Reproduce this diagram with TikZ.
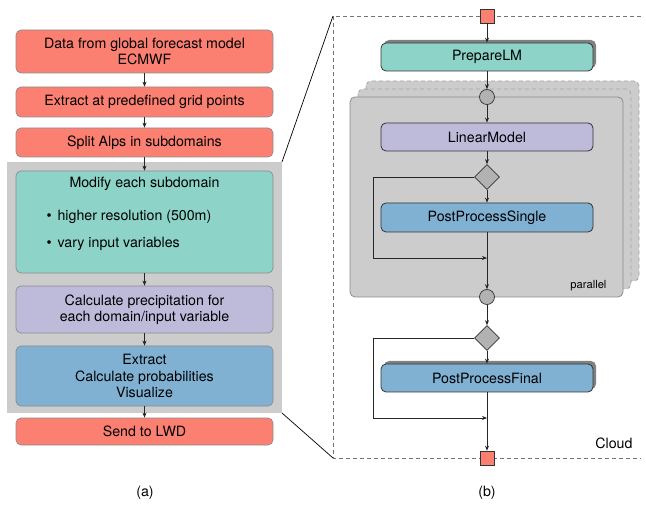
\documentclass[tikz,border=0pt]{standalone}
\usepackage{fontspec}
\setmainfont{TeX Gyre Heros}
\usetikzlibrary{arrows.meta,positioning,shapes.geometric,shadows}
\definecolor{setred}{HTML}{FB8072}
\definecolor{setteal}{HTML}{8DD3C7}
\definecolor{setpurple}{HTML}{BEBADA}
\definecolor{setblue}{HTML}{80B1D3}
\definecolor{groupgray}{HTML}{CCCCCC}

\begin{document}
\begin{tikzpicture}[x=1pt,y=-1pt,
  font=\fontsize{14.2}{16.5}\selectfont,
  flow/.style={-{Stealth[length=5pt,width=4pt]},line width=0.7pt,draw=black!85},
  stepbox/.style={draw=black!45,line width=0.7pt,rounded corners=5pt,minimum width=257pt,inner sep=0pt,align=center},
  taskbox/.style={draw=black!80,line width=0.8pt,rounded corners=5pt,minimum width=212pt,minimum height=28pt,inner sep=0pt},
  taskshadow/.style={general shadow={fill=black!50,shadow xshift=3pt,shadow yshift=3pt}},
  gate/.style={diamond,draw=black!80,fill=black!30,line width=0.7pt,minimum width=25pt,minimum height=25pt,inner sep=0pt},
  bar/.style={circle,draw=black!80,fill=black!30,line width=0.7pt,minimum size=15pt,inner sep=0pt},
  terminal/.style={draw=black!80,fill=setred,line width=0.7pt,minimum size=14pt,inner sep=0pt},
  cloudline/.style={draw=black!55,line width=0.8pt,dash pattern=on 4pt off 3pt}]

\useasboundingbox (0,0) rectangle (646,505);

% (a) workflow
\fill[groupgray] (7,162) rectangle (282,413);
\coordinate (groupNE) at (282,162);
\coordinate (groupSE) at (282,413);

\node[stepbox,fill=setred,minimum height=43pt] (data) at (144.5,51.5) {Data from global forecast model\\ECMWF};
\node[stepbox,fill=setred,minimum height=30pt] (grid) at (144.5,102) {Extract at predefined grid points};
\node[stepbox,fill=setred,minimum height=29pt] (split) at (144.5,142.5) {Split Alps in subdomains};
\node[stepbox,fill=setteal,minimum height=102pt] (modify) at (144.5,222) {};
\node (modtitle) at (144.5,184) {Modify each subdomain};
\node[anchor=west] (item1) at (43,217) {{\Large\textbullet}\hspace{6pt}higher resolution (500m)};
\node[anchor=west] (item2) at (43,244) {{\Large\textbullet}\hspace{6pt}vary input variables};
\node[stepbox,fill=setpurple,minimum height=47pt] (precip) at (144.5,309.5) {Calculate precipitation for\\each domain/input variable};
\node[stepbox,fill=setblue,minimum height=60pt] (prob) at (144.5,376) {Extract\\Calculate probabilities\\Visualize};
\node[stepbox,fill=setred,minimum height=27pt] (send) at (144.5,431.5) {Send to LWD};

\draw[flow] (data) -- (grid);
\draw[flow] (grid) -- (split);
\draw[flow] (split) -- (modify);
\draw[flow] (modify) -- (precip);
\draw[flow] (precip) -- (prob);
\draw[flow] (prob) -- (send);

\node (labela) at (145,493) {(a)};

% (b) cloud workflow
\coordinate (cloudNW) at (333,16);
\coordinate (cloudSW) at (333,458);
\draw[cloudline] (641,16) -- (cloudNW) -- (cloudSW) -- (641,458);
\draw[line width=0.7pt] (groupNE) -- (cloudNW);
\draw[line width=0.7pt] (groupSE) -- (cloudSW);

\foreach \d in {16,8}
  \draw[cloudline,fill=groupgray,rounded corners=5pt,draw=black!35] (350+\d,97-\d) rectangle (623+\d,297-\d);
\draw[fill=groupgray,draw=black!45,line width=0.8pt,rounded corners=5pt] (350,97) rectangle (623,297);
\node[font=\fontsize{11.2}{13}\selectfont,anchor=east] (parallel) at (610,286) {parallel};
\node[anchor=east] (cloud) at (636,443) {Cloud};

\node[terminal] (start) at (487,16) {};
\node[taskbox,taskshadow,fill=setteal] (prepare) at (487,57) {PrepareLM};
\node[bar] (fork) at (487,97) {};
\node[taskbox,fill=setpurple] (linear) at (487,137) {LinearModel};
\node[gate] (choice1) at (487,177) {};
\node[taskbox,fill=setblue,minimum height=29pt] (single) at (487,217.5) {PostProcessSingle};
\coordinate (merge1) at (487,258);
\node[bar] (join) at (487,297) {};
\node[gate] (choice2) at (487,338) {};
\node[taskbox,taskshadow,fill=setblue] (final) at (487,378) {PostProcessFinal};
\coordinate (merge2) at (487,418);
\node[terminal] (stop) at (487,458) {};

\draw[flow] (start) -- (prepare);
\draw[flow] (prepare) -- (fork);
\draw[flow] (fork) -- (linear);
\draw[flow] (linear) -- (choice1);
\draw[flow] (choice1) -- (single);
\draw[flow] (choice1.west) -- (373,177) -- (373,258) -- (merge1);
\draw[flow] (single) -- (join);
\draw[flow] (join) -- (choice2);
\draw[flow] (choice2) -- (final);
\draw[flow] (choice2.west) -- (373,338) -- (373,418) -- (merge2);
\draw[flow] (final) -- (stop);

\node (labelb) at (487,493) {(b)};
\end{tikzpicture}
\end{document}
